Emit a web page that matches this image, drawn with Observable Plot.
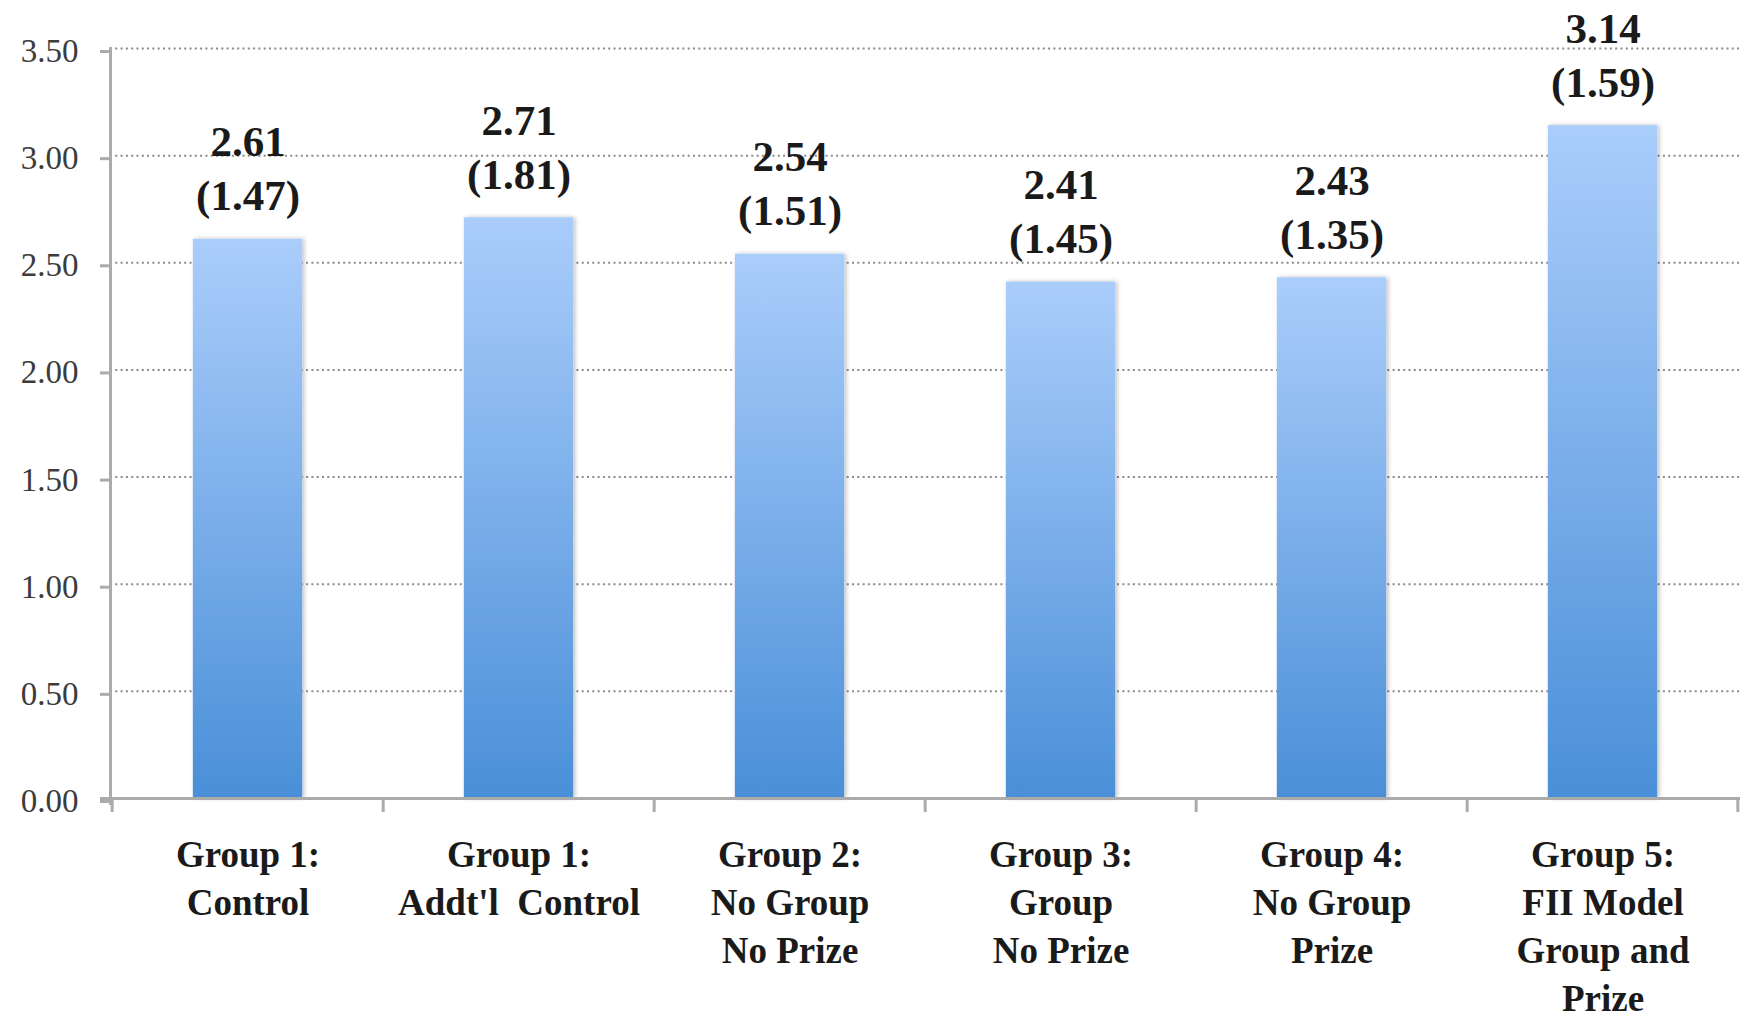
<!DOCTYPE html>
<html>
<head>
<meta charset="utf-8">
<script src="https://cdn.jsdelivr.net/npm/d3@7"></script>
<script src="https://cdn.jsdelivr.net/npm/@observablehq/plot@0.6"></script>
<style>
  html, body { margin: 0; padding: 0; background: #fff; }
  svg { display: block; }
</style>
</head>
<body>
<div id="chart"></div>
<script>
const categories = [
  "Group 1:\nControl",
  "Group 1:\nAddt'l\u00a0 Control",
  "Group 2:\nNo Group\nNo Prize",
  "Group 3:\nGroup\nNo Prize",
  "Group 4:\nNo Group\nPrize",
  "Group 5:\nFII Model\nGroup and\nPrize"
];
const means = [2.61, 2.71, 2.54, 2.41, 2.43, 3.14];
const sds = [1.47, 1.81, 1.51, 1.45, 1.35, 1.59];
const yTicks = [0, 0.5, 1, 1.5, 2, 2.5, 3, 3.5];

const data = categories.map((c, i) => ({cat: c, mean: means[i], sd: sds[i]}));

const W = 1741, H = 1014;
const mL = 110, mR = 1, mT = 48, mB = 216;
const step = (W - mL - mR) / categories.length;
const barW = 110;
const inset = (step - barW) / 2;
const axisGray = "#ababab";
const font = "'Liberation Serif', 'Times New Roman', serif";

const defs = () => {
  const g = d3.create("svg:g");
  const d = g.append("defs");
  const lg = d.append("linearGradient").attr("id", "barGrad")
    .attr("x1", 0).attr("y1", 0).attr("x2", 0).attr("y2", 1);
  lg.append("stop").attr("offset", "0%").attr("stop-color", "#aacdfb");
  lg.append("stop").attr("offset", "100%").attr("stop-color", "#4a8fd8");
  const f = d.append("filter").attr("id", "shadow")
    .attr("x", "-10%").attr("y", "-5%").attr("width", "125%").attr("height", "110%");
  f.append("feDropShadow").attr("dx", 2).attr("dy", 0).attr("stdDeviation", 2)
    .attr("flood-color", "#000").attr("flood-opacity", 0.25);
  return g.node();
};

const chart = Plot.plot({
  width: W,
  height: H,
  marginLeft: mL,
  marginRight: mR,
  marginTop: mT,
  marginBottom: mB,
  style: {fontFamily: font, background: "#fff", overflow: "visible"},
  x: {type: "band", domain: categories, padding: 0, axis: null},
  y: {domain: [0, 3.5], axis: null},
  marks: [
    defs,
    Plot.ruleY(yTicks.filter(d => d > 0), {
      stroke: "#8a8a8a", strokeWidth: 2, strokeDasharray: "2,3.3"
    }),
    Plot.barY(data, {
      x: "cat", y: "mean", fill: "url(#barGrad)",
      insetLeft: inset, insetRight: inset,
      render: (index, scales, values, dims, context, next) => {
        const g = next(index, scales, values, dims, context);
        g.setAttribute("filter", "url(#shadow)");
        return g;
      }
    }),
    Plot.frame({anchor: "left", stroke: axisGray, strokeWidth: 3, insetBottom: -5}),
    Plot.ruleY([0], {stroke: axisGray, strokeWidth: 3, insetLeft: -10}),
    Plot.ruleX(categories, {
      x: d => d, y1: 0, y2: 0, dx: -step / 2, insetBottom: -14,
      stroke: axisGray, strokeWidth: 3
    }),
    Plot.ruleX(categories.slice(-1), {
      x: d => d, y1: 0, y2: 0, dx: step / 2 - 1, insetBottom: -14,
      stroke: axisGray, strokeWidth: 3
    }),
    Plot.axisY(yTicks, {
      tickSize: 10, tickPadding: 22, tickFormat: d3.format(".2f"),
      fontSize: 33, fill: "#3c3c3c", stroke: axisGray, strokeWidth: 3,
      label: null, dy: 3
    }),
    Plot.text(categories, {
      x: d => d, y: 0, text: d => d, lineAnchor: "top", dy: 34,
      fontSize: 37, fontWeight: "bold", lineHeight: 1.3, fill: "#1a1a1a"
    }),
    Plot.text(data, {
      x: "cat", y: "mean",
      text: d => `${d.mean.toFixed(2)}\n(${d.sd.toFixed(2)})`,
      lineAnchor: "bottom", dy: -29,
      fontSize: 43, fontWeight: "bold", lineHeight: 1.25, fill: "#1a1a1a"
    })
  ]
});

document.getElementById("chart").appendChild(chart);
</script>
</body>
</html>
